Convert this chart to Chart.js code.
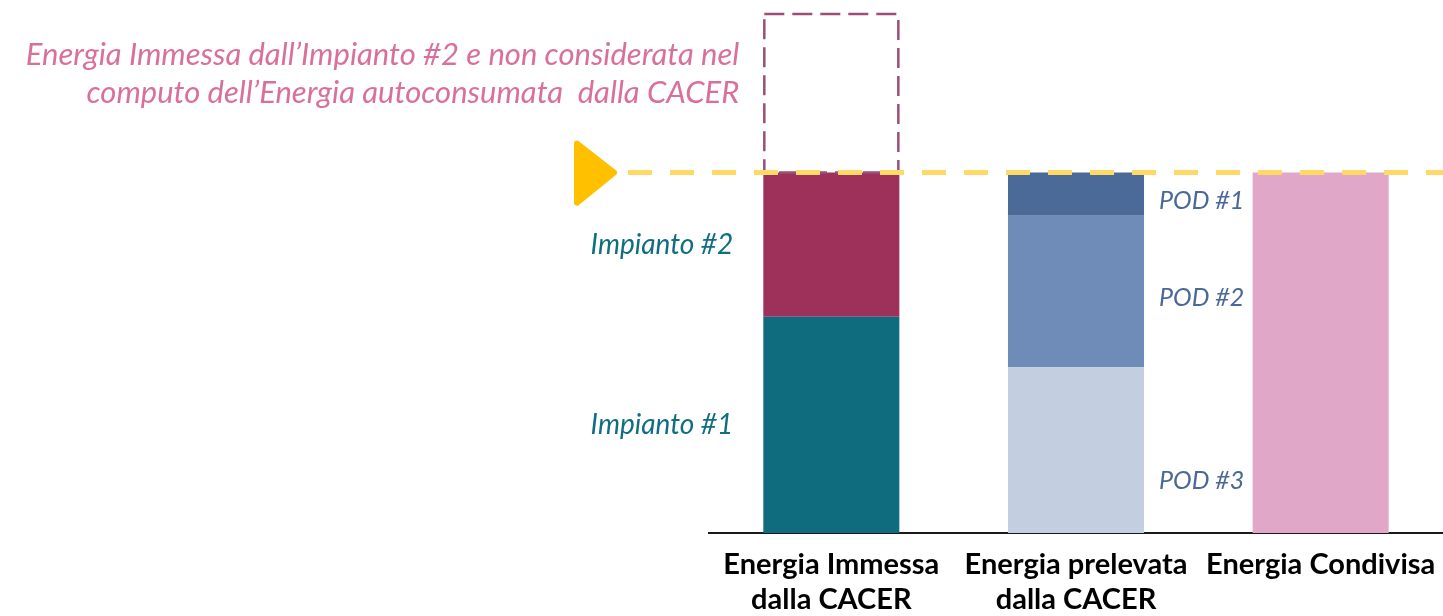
<!DOCTYPE html>
<html lang="it">
<head>
<meta charset="utf-8">
<title>Energia condivisa CACER</title>
<script src="https://cdn.jsdelivr.net/npm/chart.js@4.4.0/dist/chart.umd.min.js"></script>
<style>
  html, body { margin: 0; padding: 0; background: #fff; overflow: hidden; }
  #wrap { width: 1443px; height: 616px; }
</style>
</head>
<body>
<div id="wrap"><canvas id="grafico" width="1443" height="616"></canvas></div>
<script>
// categorie sull'asse x
const categorie = [
  ['Energia Immessa', 'dalla CACER'],
  ['Energia prelevata', 'dalla CACER'],
  ['Energia Condivisa']
];

// colonna 1: energia immessa dagli impianti
const impianto1 = [60, null, null];
const impianto2 = [40, null, null];
const impianto2Escluso = [44, null, null];

// colonna 2: energia prelevata dai POD
const pod3 = [null, 46, null];
const pod2 = [null, 42, null];
const pod1 = [null, 12, null];

// colonna 3: energia condivisa
const condivisa = [null, null, 100];

// livello dell'energia condivisa (linea gialla)
const livelloCondiviso = 100;
const asseMax = 144;

const notaEsclusa = [
  'Energia Immessa dall\u2019Impianto #2 e non considerata nel',
  'computo dell\u2019Energia autoconsumata  dalla CACER'
];

// spostamento verticale delle etichette POD rispetto al centro del blocco
const scostamentoPod = [31, 6, 7];

const annotazioni = {
  id: 'annotazioni',
  afterDatasetsDraw(chart) {
    const ctx = chart.ctx;
    const area = chart.chartArea;
    const yl = chart.scales.y.getPixelForValue(livelloCondiviso);
    ctx.save();

    // riquadro tratteggiato: energia non considerata
    const esc = chart.getDatasetMeta(2).data[0];
    const l = esc.x - esc.width / 2 + 1;
    const r = esc.x + esc.width / 2 - 1;
    ctx.strokeStyle = '#9b4f77';
    ctx.lineWidth = 2.5;
    ctx.setLineDash([20, 8]);
    ctx.strokeRect(l, esc.y, r - l, esc.base - esc.y);

    // linea tratteggiata gialla
    ctx.setLineDash([24, 18]);
    ctx.strokeStyle = '#ffd966';
    ctx.lineWidth = 5;
    ctx.beginPath();
    ctx.moveTo(area.left - 81, yl);
    ctx.lineTo(chart.width, yl);
    ctx.stroke();

    // triangolo
    ctx.setLineDash([]);
    ctx.fillStyle = ctx.strokeStyle = '#ffc000';
    ctx.lineJoin = 'round';
    ctx.lineWidth = 6;
    ctx.beginPath();
    ctx.moveTo(area.left - 132, yl - 29);
    ctx.lineTo(area.left - 95, yl);
    ctx.lineTo(area.left - 132, yl + 30);
    ctx.closePath();
    ctx.fill();
    ctx.stroke();

    // etichette impianti
    ctx.font = 'italic 28px Lato';
    ctx.textBaseline = 'middle';
    ctx.textAlign = 'right';
    ctx.fillStyle = '#106e80';
    [0, 1].forEach(i => {
      const el = chart.getDatasetMeta(i).data[0];
      ctx.fillText(chart.data.datasets[i].label, el.x - el.width / 2 - 30, (el.y + el.base) / 2);
    });

    // etichette POD
    ctx.font = 'italic 25px Lato';
    ctx.textAlign = 'left';
    ctx.fillStyle = '#4a6898';
    [3, 4, 5].forEach((i, k) => {
      const el = chart.getDatasetMeta(i).data[1];
      ctx.fillText(chart.data.datasets[i].label, el.x + el.width / 2 + 15, (el.y + el.base) / 2 + scostamentoPod[k]);
    });

    // nota
    ctx.font = 'italic 31px Lato';
    ctx.textAlign = 'right';
    ctx.fillStyle = '#d9709c';
    notaEsclusa.forEach((riga, k) => {
      ctx.fillText(riga, l - 25, esc.y + 41 + k * 38);
    });

    ctx.restore();
  }
};

new Chart(document.getElementById('grafico'), {
  type: 'bar',
  data: {
    labels: categorie,
    datasets: [
      { label: 'Impianto #1', data: impianto1, backgroundColor: '#0f6c7f' },
      { label: 'Impianto #2', data: impianto2, backgroundColor: '#9e3159' },
      { label: 'Impianto #2 escluso', data: impianto2Escluso, backgroundColor: 'rgba(0,0,0,0)' },
      { label: 'POD #3', data: pod3, backgroundColor: '#c3cee0' },
      { label: 'POD #2', data: pod2, backgroundColor: '#6e8cb7' },
      { label: 'POD #1', data: pod1, backgroundColor: '#4b6a98' },
      { label: 'Energia Condivisa', data: condivisa, backgroundColor: '#e0a7c8' }
    ]
  },
  options: {
    responsive: false,
    animation: false,
    layout: { padding: { left: 709, top: 14, right: 0, bottom: -8 } },
    datasets: { bar: { categoryPercentage: 1, barPercentage: 0.556, borderWidth: 0 } },
    plugins: {
      legend: { display: false },
      tooltip: { enabled: false }
    },
    scales: {
      x: {
        stacked: true,
        grid: { display: false },
        border: { display: true, color: '#1a1a1a', width: 2 },
        ticks: {
          color: '#000',
          font: { family: 'Lato', weight: 'bold', size: 29, lineHeight: 1.207 },
          padding: 6.5,
          maxRotation: 0,
          autoSkip: false
        }
      },
      y: { stacked: true, display: false, min: 0, max: asseMax }
    }
  },
  plugins: [annotazioni]
});
</script>
</body>
</html>
